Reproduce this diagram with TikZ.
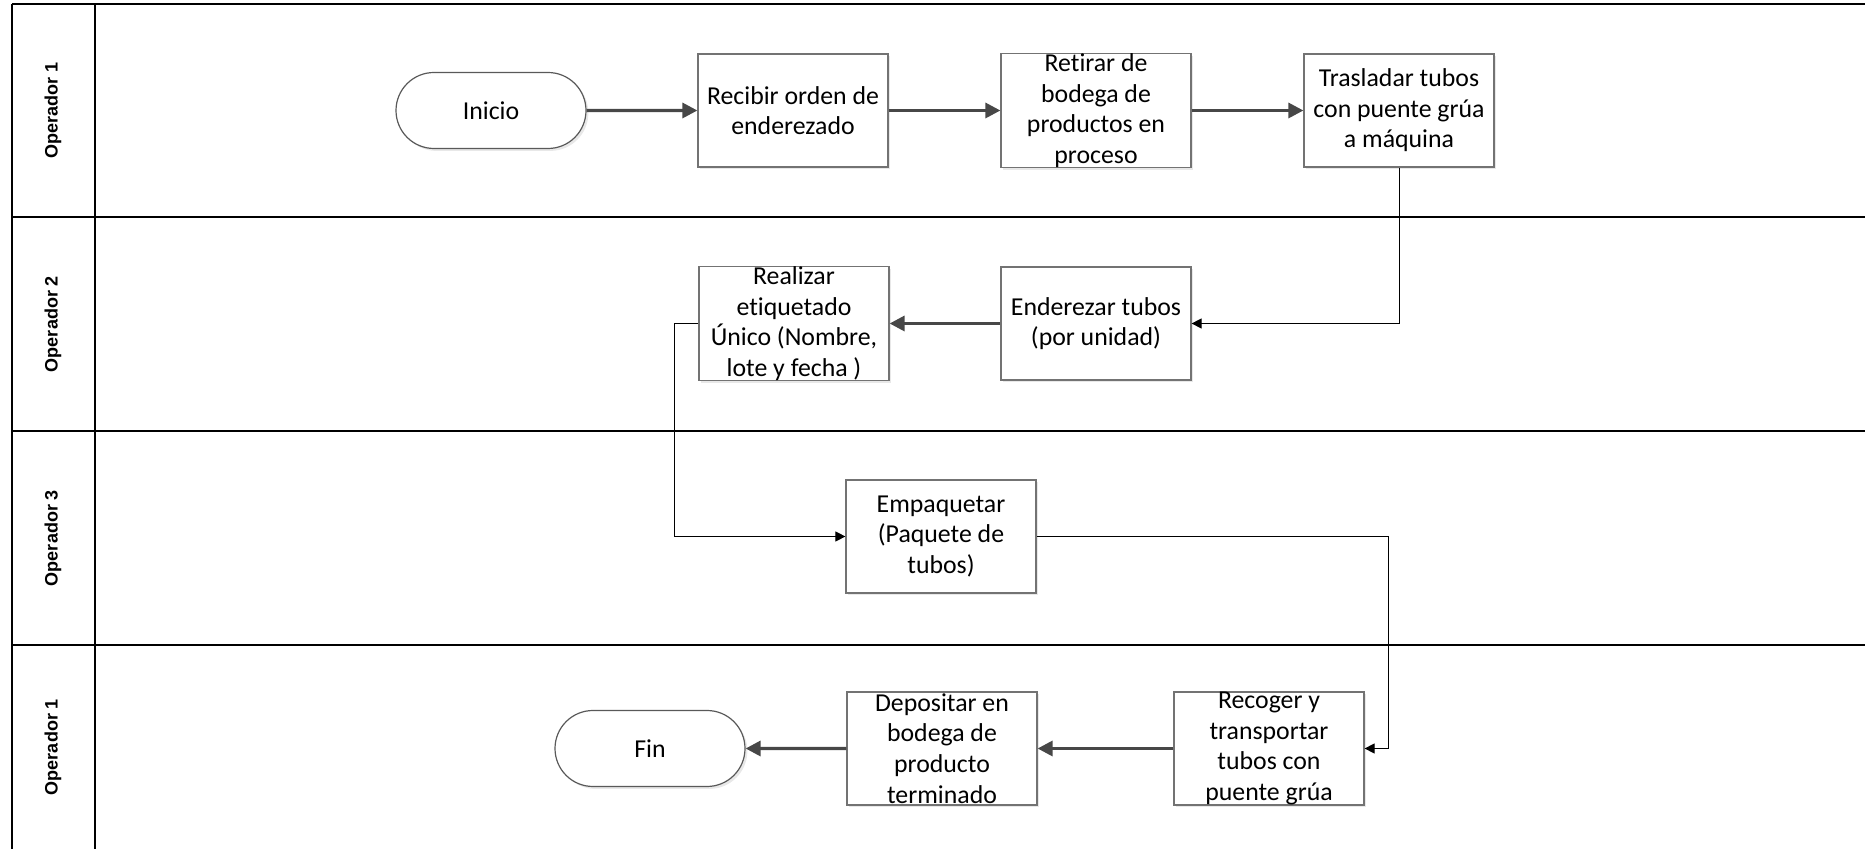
\documentclass[tikz,border=0pt]{standalone}
\usepackage{fontspec}
\setmainfont{Carlito}[Ligatures=NoCommon]
\newfontfamily\lanefont{Liberation Sans}
\usetikzlibrary{shapes.misc,arrows.meta,shadows}

\begin{document}
\begin{tikzpicture}[x=0.5pt, y=-0.5pt,
    main/.style = {draw=black!55, fill=white, line width=0.6pt, minimum width=95pt, minimum height=56.5pt, inner sep=0pt, align=center, font=\fontsize{12.9}{15.3}\selectfont, drop shadow={shadow xshift=1.2pt, shadow yshift=-1.2pt, fill=black!15, opacity=0.6}},
    term/.style = {main, rounded rectangle, draw=black!65, minimum height=38pt},
    frame/.style = {draw=black, line width=0.65pt},
    lane/.style = {rotate=90, font=\lanefont\bfseries\fontsize{9}{11}\selectfont},
    flow/.style = {draw=black!72, line width=1.6pt, -{Triangle[length=7.5pt,width=7.5pt]}},
    link/.style = {draw=black, line width=0.5pt, -{Triangle[length=5pt,width=5pt]}}]
    \useasboundingbox (0,0) rectangle (1865,849);
    % lanes
    \draw[frame] (12,4) -- (1865,4);
    \draw[frame] (12,4) -- (12,849);
    \draw[frame] (95,4) -- (95,849);
    \draw[frame] (12,217) -- (1865,217);
    \draw[frame] (12,431) -- (1865,431);
    \draw[frame] (12,645) -- (1865,645);
    \node[lane] (l1) at (53,110.5) {Operador 1};
    \node[lane] (l2) at (53,324) {Operador 2};
    \node[lane] (l3) at (53,538) {Operador 3};
    \node[lane] (l4) at (53,747) {Operador 1};
    % steps
    \node[term] (1) at (491,110.5) {Inicio};
    \node[main] (2) at (793,110.5) {Recibir orden de\\enderezado};
    \node[main] (3) at (1096,110.5) {Retirar de\\bodega de\\productos en\\proceso};
    \node[main] (4) at (1399,110.5) {Trasladar tubos\\con puente grúa\\a máquina};
    \node[main] (5) at (1096,323.5) {Enderezar tubos\\(por unidad)};
    \node[main] (6) at (794,323.5) {Realizar\\etiquetado\\Único (Nombre,\\lote y fecha )};
    \node[main] (7) at (941,536.5) {Empaquetar\\(Paquete de\\tubos)};
    \node[main] (8) at (1269,748.5) {Recoger y\\transportar\\tubos con\\puente grúa};
    \node[main] (9) at (942,748.5) {Depositar en\\bodega de\\producto\\terminado};
    \node[term] (10) at (650,748.5) {Fin};
    % connectors
    \draw[flow] (1) -- (2);
    \draw[flow] (2) -- (3);
    \draw[flow] (3) -- (4);
    \draw[link] (4.south) |- (5.east);
    \draw[flow] (5) -- (6);
    \draw[link] (6.west) -- ([xshift=-12pt]6.west) |- (7.west);
    \draw[link] (7.east) -| ([xshift=12pt]8.east) -- (8.east);
    \draw[flow] (8) -- (9);
    \draw[flow] (9) -- (10);
\end{tikzpicture}
\end{document}
